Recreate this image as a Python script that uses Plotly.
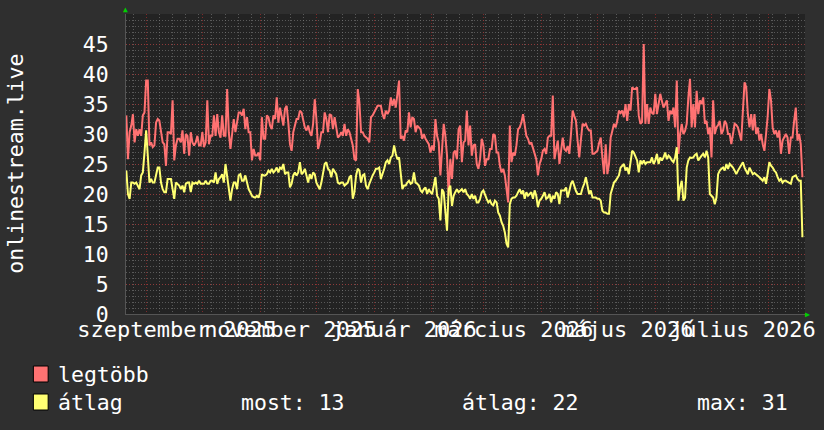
import pandas as pd
import plotly.graph_objects as go

# ---- data (legtöbb = max, átlag = average) ----
legtobb_1 = [33.1, 25.8, 30.3, 31.4, 33.3, 28.6, 30.8, 29.7, 30.8, 29.7, 33.1, 33.6, 38.9, 38.9, 28.1, 28.6,
             27.8, 28.1, 31.9, 32.5, 32.2, 30.3, 28.6, 28.3, 24.7, 30.3, 30.3, 30.0, 35.6, 25.6, 28.1, 29.2,
             29.2, 28.6, 30.6, 26.7, 30.0, 29.7, 26.4, 30.3, 28.6, 28.1, 28.6, 29.7, 28.1, 28.1, 30.3, 27.8, 28.6]
legtobb_2 = [35.6, 28.3, 29.7, 29.7, 33.1, 29.7, 33.3, 30.3, 29.4, 33.1, 29.7, 29.7, 37.5, 30.3, 27.5, 29.7,
             32.5, 30.3, 31.9, 33.6, 33.6, 33.1, 34.2, 30.8, 32.8, 30.3, 30.3, 25.6, 27.5, 26.4, 26.4, 26.9,
             25.6, 32.8, 29.2, 29.2, 33.1, 32.8, 31.4, 30.8, 33.1, 32.5, 36.1, 31.9, 34.4, 33.1, 31.4, 34.2,
             34.7, 31.9, 28.3, 27.2, 30.3]
legtobb_3 = [31.4, 32.5, 32.5, 33.9, 33.6, 32.5, 31.1, 30.6, 31.4, 30.3, 29.7, 31.7, 35.8, 32.5, 27.5, 28.6,
             30.3, 30.3, 33.6, 32.5, 30.3, 33.3, 33.1, 30.8, 32.8, 31.1, 29.4, 29.7, 30.3, 29.7, 31.7, 29.7,
             30.8, 30.3, 29.2, 28.1, 25.8, 25.6, 37.5, 35.3, 30.3, 30.3, 29.7, 29.4, 29.2, 28.6, 32.8, 33.1,
             33.6, 34.2, 34.7, 34.7]
legtobb_4 = [34.7, 33.3, 32.5, 33.9, 33.3, 33.9, 36.1, 34.7, 35.8, 34.4, 36.7, 38.9, 29.2, 29.7, 28.9, 30.6,
             30.3, 33.6, 31.1, 32.8, 32.5, 30.3, 31.4, 31.1, 30.8, 29.2, 30.0, 29.2, 28.6, 28.3, 26.9, 28.1,
             27.2, 32.5, 29.7, 28.6, 23.1, 26.9, 31.7, 29.7, 26.4, 19.7, 25.8, 22.5, 26.9, 27.2, 25.8, 30.8,
             31.4, 25.3, 28.6, 28.9]
legtobb_5 = [33.9, 28.1, 31.4, 26.4, 28.1, 28.3, 25.0, 24.2, 25.8, 29.2, 28.1, 24.7, 25.8, 25.8, 27.5, 27.5,
             30.0, 29.7, 26.9, 26.9, 24.7, 23.6, 24.2, 23.1, 20.3, 18.6, 31.4, 25.3, 26.9, 26.4, 28.1, 30.8,
             31.1, 31.9, 33.3, 31.1, 29.7, 29.2, 28.3, 28.6, 27.5, 26.4, 25.8, 23.1, 25.0, 25.8, 27.2, 27.5,
             26.7, 29.4, 29.7]
legtobb_6 = [29.7, 36.4, 25.8, 27.8,
             28.9, 25.0, 27.0, 29.4, 27.5, 27.2, 28.0, 26.7, 30.0, 33.9, 33.0, 32.2, 28.9, 26.1, 29.0, 31.7,
             31.4, 31.7, 31.0, 30.6, 30.6, 26.7, 26.7, 27.0, 27.2, 28.5, 29.4, 26.1, 23.3, 28.3, 23.3, 25.0,
             29.4, 30.5, 31.7, 31.1, 32.2, 33.9, 33.5, 33.9, 32.8, 35.0, 32.2, 35.0, 33.9, 37.8, 37.5, 37.5,
             37.8, 33.1, 31.7, 32.0, 45.0, 31.7, 35.0, 31.7, 34.4, 33.5, 33.3, 36.7, 33.3, 35.0, 36.7, 35.5,
             34.4, 35.0, 35.6, 32.2, 33.9, 33.3, 34.4, 31.1, 38.9, 26.7, 30.0, 31.7, 30.0, 30.5, 31.7, 36.1,
             39.2, 31.1, 35.0, 31.1, 37.2, 33.3, 35.6, 35.0, 36.1, 31.7, 32.2, 30.0, 31.1, 26.1, 35.6, 30.0,
             31.1, 31.5, 32.2, 30.0, 30.6, 32.2, 31.7, 30.0, 30.0, 28.3, 30.0, 31.7, 31.5, 31.1, 30.0, 28.9,
             33.9, 38.6, 37.8, 33.3, 31.1, 33.3, 30.6, 33.3, 30.0, 31.1, 28.9, 30.0, 28.3, 27.2, 30.0, 33.0,
             37.5, 35.6, 31.1, 30.0, 30.6, 29.4, 30.6, 26.7, 28.9, 29.5, 30.0, 29.4, 26.7, 29.4, 29.4, 32.2,
             34.4, 28.9, 30.0, 28.3, 22.8]

atlag_1 = [23.9, 20.0, 19.2, 21.9, 21.9, 21.7, 21.9, 21.4, 20.8, 23.1, 23.6, 26.9, 30.6, 26.4, 21.9, 22.5,
           21.9, 21.9, 23.1, 24.4, 24.4, 21.9, 20.8, 20.3, 20.3, 22.5, 22.5, 22.5, 20.8, 19.2, 21.9, 21.7,
           21.4, 20.8, 21.4, 20.3, 21.7, 21.9, 21.9, 20.3, 21.9, 21.7, 21.9, 21.7, 22.2, 21.7, 21.7, 21.7, 22.2]
atlag_2 = [21.7, 21.7, 22.2, 22.2, 21.9, 23.6, 21.7, 22.5, 22.8, 23.3, 21.9, 25.0, 23.1, 21.4, 18.9, 20.8,
           21.9, 21.9, 20.8, 23.1, 23.3, 22.2, 22.2, 23.1, 21.9, 20.8, 20.3, 19.7, 19.5, 19.4, 19.7, 19.4,
           20.3, 23.3, 23.1, 23.1, 23.3, 23.9, 23.6, 24.2, 23.6, 23.9, 24.4, 23.6, 24.4, 24.2, 25.0, 23.3,
           23.6, 23.6, 21.1, 21.7, 23.1]
atlag_3 = [23.6, 23.1, 23.6, 25.3, 23.3, 23.6, 24.2, 23.1, 21.9, 23.3, 22.5, 23.6, 23.3, 21.9, 21.4, 20.8,
           21.9, 23.6, 25.0, 25.3, 24.2, 23.9, 22.8, 24.2, 23.6, 23.3, 21.9, 21.7, 21.9, 21.9, 21.4, 21.7,
           21.9, 22.8, 23.1, 19.2, 20.3, 23.1, 24.2, 23.9, 21.9, 23.1, 23.3, 21.4, 20.8, 21.7, 22.5, 23.1,
           23.6, 24.2, 24.2, 24.4]
atlag_4 = [22.5, 23.3, 24.2, 25.3, 25.6, 25.0, 26.1, 26.4, 28.1, 26.7, 25.8, 26.1, 23.1, 20.8, 21.4, 21.4,
           21.9, 22.2, 21.7, 21.9, 23.6, 21.9, 21.7, 21.4, 20.6, 20.3, 20.8, 21.1, 20.0, 20.8, 20.3, 20.0,
           21.4, 22.8, 19.7, 19.2, 15.6, 20.8, 20.3, 17.5, 13.9, 20.8, 21.4, 18.0, 19.7, 20.3, 20.8, 20.3,
           20.6, 20.8, 20.3, 20.8]
atlag_5 = [20.0, 19.7, 19.2, 20.0, 19.2, 19.7, 18.6, 18.6, 19.2, 20.3, 20.6, 19.7, 19.2, 18.6, 18.9, 18.3,
           18.1, 18.9, 18.6, 16.9, 16.4, 15.3, 14.7, 13.6, 11.7, 11.1, 18.3, 19.2, 19.4, 19.4, 19.7, 20.3,
           20.8, 20.0, 20.6, 19.2, 20.3, 19.7, 20.0, 20.3, 19.2, 20.6, 19.7, 17.8, 18.9, 19.2, 19.7, 20.3,
           19.2, 19.4, 20.0]
atlag_6 = [18.6, 19.7, 19.2, 20.3,
           20.0, 18.3, 20.6, 20.6, 20.6, 21.1, 19.4, 20.5, 21.7, 22.2, 21.1, 20.5, 20.0, 20.0, 20.0, 21.0,
           21.7, 22.8, 21.1, 20.0, 20.6, 19.4, 19.4, 19.4, 19.2, 19.2, 18.9, 17.2, 16.9, 16.9, 16.7, 16.7,
           20.0, 21.1, 21.9, 22.2, 22.8, 23.1, 24.4, 24.7, 25.0, 23.9, 24.4, 23.3, 25.6, 27.2, 26.9, 26.1,
           25.6, 23.6, 25.6, 25.0, 25.6, 25.0, 25.3, 25.3, 25.3, 26.1, 25.0, 25.6, 26.7, 25.0, 26.1, 25.6,
           26.1, 26.9, 25.8, 26.4, 26.1, 25.6, 25.3, 26.1, 27.8, 18.9, 21.1, 22.2, 18.9, 19.4, 24.4, 25.6,
           26.1, 26.0, 26.1, 26.5, 26.7, 25.6, 26.1, 26.4, 26.7, 26.1, 27.2, 26.1, 20.0, 19.7, 19.4, 18.3,
           19.4, 23.3, 23.9, 24.2, 24.4, 23.9, 25.0, 24.2, 25.0, 24.7, 24.4, 23.9, 23.3, 23.9, 24.4, 24.7,
           25.3, 24.4, 23.9, 23.3, 24.4, 23.9, 23.3, 23.5, 23.3, 23.0, 22.8, 22.5, 22.2, 22.8, 21.7, 23.5,
           25.3, 24.7, 24.4, 23.9, 23.6, 22.8, 22.2, 22.5, 21.9, 22.2, 22.2, 22.0, 21.9, 21.7, 22.8, 23.0,
           23.1, 22.5, 22.2, 22.2, 12.8]

legtobb = legtobb_1 + legtobb_2 + legtobb_3 + legtobb_4 + legtobb_5 + legtobb_6
atlag = atlag_1 + atlag_2 + atlag_3 + atlag_4 + atlag_5 + atlag_6
n = min(len(legtobb), len(atlag))
legtobb, atlag = legtobb[:n], atlag[:n]

start_time = "2025-08-21 00:00"
sample_step = "21h18min"
times = pd.date_range(start=start_time, periods=n, freq=sample_step)

x_range = ["2025-08-20 20:00", "2026-08-20 09:00"]
label_dates = ["2025-09-17", "2025-11-17", "2026-01-17", "2026-03-17", "2026-05-17", "2026-07-18"]
label_texts = ["szeptember 2025", "november 2025", "január 2026", "március 2026", "május 2026", "július 2026"]
y_ticks = [0, 5, 10, 15, 20, 25, 30, 35, 40, 45]

series_names = ["legtöbb", "átlag"]
stats_labels = ["most: 13", "átlag: 22", "max: 31"]

# ---- style ----
FONT = "DejaVu Sans Mono"
FS = 21.5
FS_X = 22
RED = "#ff7272"
YEL = "#ffff72"
PAPER = "#2f2f2f"
PLOTBG = "#232323"
MINOR = "rgba(125,125,125,0.6)"
MAJOR = "rgba(165,45,45,0.7)"
W, H = 824, 430
L, R, T, B = 126, 9, 14, 116
PW, PH = W - L - R, H - T - B


def px(xp):
    return (xp - L) / PW


def py(yp):
    return (T + PH - yp) / PH


fig = go.Figure()
fig.add_trace(go.Scatter(x=times, y=legtobb, mode="lines", line=dict(color=RED, width=2),
                         name=series_names[0], hoverinfo="skip"))
fig.add_trace(go.Scatter(x=times, y=atlag, mode="lines", line=dict(color=YEL, width=2),
                         name=series_names[1], xaxis="x2", hoverinfo="skip"))

fig.update_layout(
    width=W, height=H, autosize=False,
    margin=dict(l=L, r=R, t=T, b=B, pad=0),
    paper_bgcolor=PAPER, plot_bgcolor=PLOTBG,
    showlegend=False,
    font=dict(family=FONT, size=FS, color="#ffffff"),
    xaxis=dict(
        type="date", range=x_range,
        tickmode="linear", tick0="2025-09-01", dtick="M1",
        showticklabels=False, ticks="",
        showgrid=True, gridcolor=MAJOR, gridwidth=1, griddash="1px,2px",
        minor=dict(tickmode="linear", tick0="2025-09-01", dtick=7 * 86400000,
                   showgrid=True, gridcolor=MINOR, gridwidth=1, griddash="1px,2px", ticks=""),
        zeroline=False, showline=True, linecolor="#555555", linewidth=1,
    ),
    xaxis2=dict(
        type="date", range=x_range, overlaying="x", anchor="y", side="bottom",
        tickmode="array", tickvals=label_dates, ticktext=label_texts,
        tickangle=0, ticks="", showgrid=False, zeroline=False,
        tickfont=dict(family=FONT, size=FS_X, color="#ffffff"),
        ticklabelstandoff=0, ticklabeloverflow="allow",
    ),
    yaxis=dict(
        range=[0, 50], tickmode="array", tickvals=y_ticks,
        ticks="", ticklabelstandoff=12,
        showgrid=True, gridcolor=MAJOR, gridwidth=1, griddash="1px,2px",
        minor=dict(tickmode="linear", tick0=0, dtick=1, showgrid=True,
                   gridcolor=MINOR, gridwidth=1, griddash="1px,2px", ticks=""),
        zeroline=False, showline=True, linecolor="#555555", linewidth=1,
        tickfont=dict(family=FONT, size=FS, color="#ffffff"),
    ),
)

annotations = [
    dict(text="onlinestream.live", x=px(13), y=0.5, xref="paper", yref="paper",
         textangle=-90, showarrow=False, xanchor="center", yanchor="middle",
         font=dict(family=FONT, size=FS, color="#ffffff")),
    dict(text=series_names[0], x=px(55), y=py(374), xref="paper", yref="paper",
         showarrow=False, xanchor="left", yanchor="middle"),
    dict(text=series_names[1], x=px(55), y=py(402), xref="paper", yref="paper",
         showarrow=False, xanchor="left", yanchor="middle"),
    dict(text=stats_labels[0], x=px(241), y=py(402), xref="paper", yref="paper",
         showarrow=False, xanchor="left", yanchor="middle"),
    dict(text=stats_labels[1], x=px(465), y=py(402), xref="paper", yref="paper",
         showarrow=False, xanchor="left", yanchor="middle"),
    dict(text=stats_labels[2], x=px(703), y=py(402), xref="paper", yref="paper",
         showarrow=False, xanchor="left", yanchor="middle"),
    dict(text="▲", x=px(125.5), y=py(10), xref="paper", yref="paper", showarrow=False,
         xanchor="center", yanchor="middle", font=dict(size=8, color="#00d000")),
    dict(text="▶", x=px(818), y=py(314), xref="paper", yref="paper", showarrow=False,
         xanchor="center", yanchor="middle", font=dict(size=8, color="#00d000")),
]
fig.update_layout(annotations=annotations)

fig.add_shape(type="rect", xref="paper", yref="paper", x0=px(32), x1=px(47), y0=py(366), y1=py(382),
              fillcolor=RED, line=dict(color="#000000", width=1))
fig.add_shape(type="rect", xref="paper", yref="paper", x0=px(32), x1=px(47), y0=py(394), y1=py(410),
              fillcolor=YEL, line=dict(color="#000000", width=1))

fig.write_html("out.html",
               config={"displayModeBar": False, "responsive": False},
               post_script="document.documentElement.style.overflow='hidden';"
                           "document.body.style.overflow='hidden';"
                           "document.body.style.margin='0px';document.body.style.padding='0px';"
                           "document.body.style.background='" + PAPER + "';")
